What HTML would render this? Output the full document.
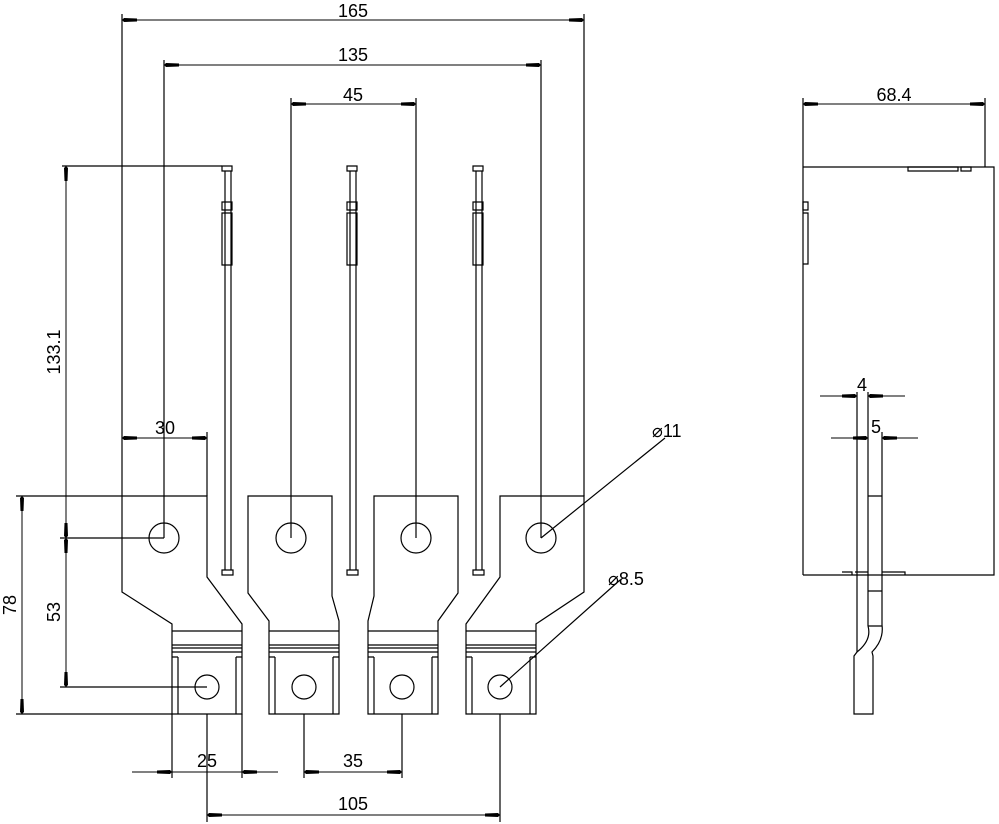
<!DOCTYPE html>
<html><head><meta charset="utf-8"><style>
html,body{margin:0;padding:0;background:#fff;}
svg{display:block;}
text{font-family:"Liberation Sans",sans-serif;font-size:18px;fill:#000;}
</style></head><body>
<svg width="999" height="824" viewBox="0 0 999 824" xmlns="http://www.w3.org/2000/svg">
<defs>
<marker id="a" markerUnits="userSpaceOnUse" markerWidth="16" markerHeight="8" refX="16" refY="4" orient="auto-start-reverse">
<path d="M1,2.5 L14,2 L16,4 L14,6 L1,5.5 Z" fill="#000"/>
</marker>
</defs>
<g stroke="#000" stroke-width="1.2" fill="none">
<path d="M122,496 H207 V577 L242,624 V714 H172 V624 L122,592 Z"/>
<path d="M172,631 H242 M172,645 H242 M172,648 H242 M172,652 H242 M178,657 V714 M236,657 V714 M172,657 H178 M236,657 H242"/>
<circle cx="164" cy="538" r="15"/><circle cx="207" cy="687" r="12"/>
<path d="M248,496 H332 V596 L339,621 V714 H269 V621 L248,593 Z"/>
<path d="M269,631 H339 M269,645 H339 M269,648 H339 M269,652 H339 M275,657 V714 M333,657 V714 M269,657 H275 M333,657 H339"/>
<circle cx="291" cy="538" r="15"/><circle cx="304" cy="687" r="12"/>
<path d="M374,496 H458 V593 L438,621 V714 H368 V621 L374,596 Z"/>
<path d="M368,631 H438 M368,645 H438 M368,648 H438 M368,652 H438 M374,657 V714 M432,657 V714 M368,657 H374 M432,657 H438"/>
<circle cx="416" cy="538" r="15"/><circle cx="402" cy="687" r="12"/>
<path d="M500,496 H584 V592 L536,624 V714 H466 V624 L500,577 Z"/>
<path d="M466,631 H536 M466,645 H536 M466,648 H536 M466,652 H536 M472,657 V714 M530,657 V714 M466,657 H472 M530,657 H536"/>
<circle cx="541" cy="538" r="15"/><circle cx="500" cy="687" r="12"/>
<g id="bl">
<path d="M222,166 H232 V171 H222 Z M225,171 V570 M231,171 V570 M222,202 H232 V210 H222 Z M222,213 V265 H232 V213 Z M222,570 H233 V575 H222 Z"/>
</g>
<use href="#bl" x="125"/>
<use href="#bl" x="251"/>
<path d="M122,14 V496 M584,14 V496 M164,60 V538 M541,60 V538 M291,98 V538 M416,98 V538"/>
<path d="M62,166 H222 M60,538 H164 M60,687 H207 M16,714 H172 M16,496 H122 M207,432 V496"/>
<path d="M172,714 V778 M242,714 V778 M304,714 V778 M402,714 V778 M207,714 V822 M500,714 V822"/>
<path d="M541,538 L665,438 M500,687 L620,580"/>
<path d="M803,98 V575 M985,98 V167 M803,167 H994 V575 H803"/>
<path d="M908,167 H958 V171 H908 Z M961,167 H971 V171 H961 Z M803,202 H808 V210 H803 Z M803,213 H808 V264 H803"/>
<path d="M857,392 V652 M868,392 V626 M882,432 V625 M868,496 H882 M868,591 H882 M868,626 H882 M842,572 H852 V575 M855,572 H868 M882,572 H905 V575"/>
<path d="M857,652 L854,656 V714 H873 V656 L872,652 Q884,640 882,625 M868,626 Q872,640 857,652"/>
</g>
<g stroke="#000" stroke-width="1" fill="none">
<line x1="122" y1="20" x2="584" y2="20" marker-start="url(#a)" marker-end="url(#a)"/>
<line x1="164" y1="65" x2="541" y2="65" marker-start="url(#a)" marker-end="url(#a)"/>
<line x1="291" y1="104" x2="416" y2="104" marker-start="url(#a)" marker-end="url(#a)"/>
<line x1="803" y1="104" x2="985" y2="104" marker-start="url(#a)" marker-end="url(#a)"/>
<line x1="66" y1="166" x2="66" y2="538" marker-start="url(#a)" marker-end="url(#a)"/>
<line x1="66" y1="538" x2="66" y2="687" marker-start="url(#a)" marker-end="url(#a)"/>
<line x1="22" y1="496" x2="22" y2="714" marker-start="url(#a)" marker-end="url(#a)"/>
<line x1="122" y1="438" x2="207" y2="438" marker-start="url(#a)" marker-end="url(#a)"/>
<line x1="207" y1="815" x2="500" y2="815" marker-start="url(#a)" marker-end="url(#a)"/>
<line x1="304" y1="772" x2="402" y2="772" marker-start="url(#a)" marker-end="url(#a)"/>
<line x1="132" y1="772" x2="172" y2="772" marker-end="url(#a)"/>
<line x1="278" y1="772" x2="242" y2="772" marker-end="url(#a)"/>
<line x1="172" y1="772" x2="242" y2="772"/>
<line x1="820" y1="396" x2="857" y2="396" marker-end="url(#a)"/>
<line x1="905" y1="396" x2="868" y2="396" marker-end="url(#a)"/>
<line x1="831" y1="438" x2="868" y2="438" marker-end="url(#a)"/>
<line x1="918" y1="438" x2="882" y2="438" marker-end="url(#a)"/>
</g>
<text x="353" y="17" text-anchor="middle">165</text>
<text x="353" y="61" text-anchor="middle">135</text>
<text x="353" y="101" text-anchor="middle">45</text>
<text x="894" y="101" text-anchor="middle">68.4</text>
<text x="165" y="434" text-anchor="middle">30</text>
<text x="207" y="767" text-anchor="middle">25</text>
<text x="353" y="767" text-anchor="middle">35</text>
<text x="353" y="810" text-anchor="middle">105</text>
<text x="862" y="391" text-anchor="middle">4</text>
<text x="876" y="433" text-anchor="middle">5</text>
<text x="652" y="437">⌀11</text>
<text x="608" y="585">⌀8.5</text>
<text transform="translate(60,352) rotate(-90)" text-anchor="middle">133.1</text>
<text transform="translate(60,612) rotate(-90)" text-anchor="middle">53</text>
<text transform="translate(16,605) rotate(-90)" text-anchor="middle">78</text>
</svg>
</body></html>
